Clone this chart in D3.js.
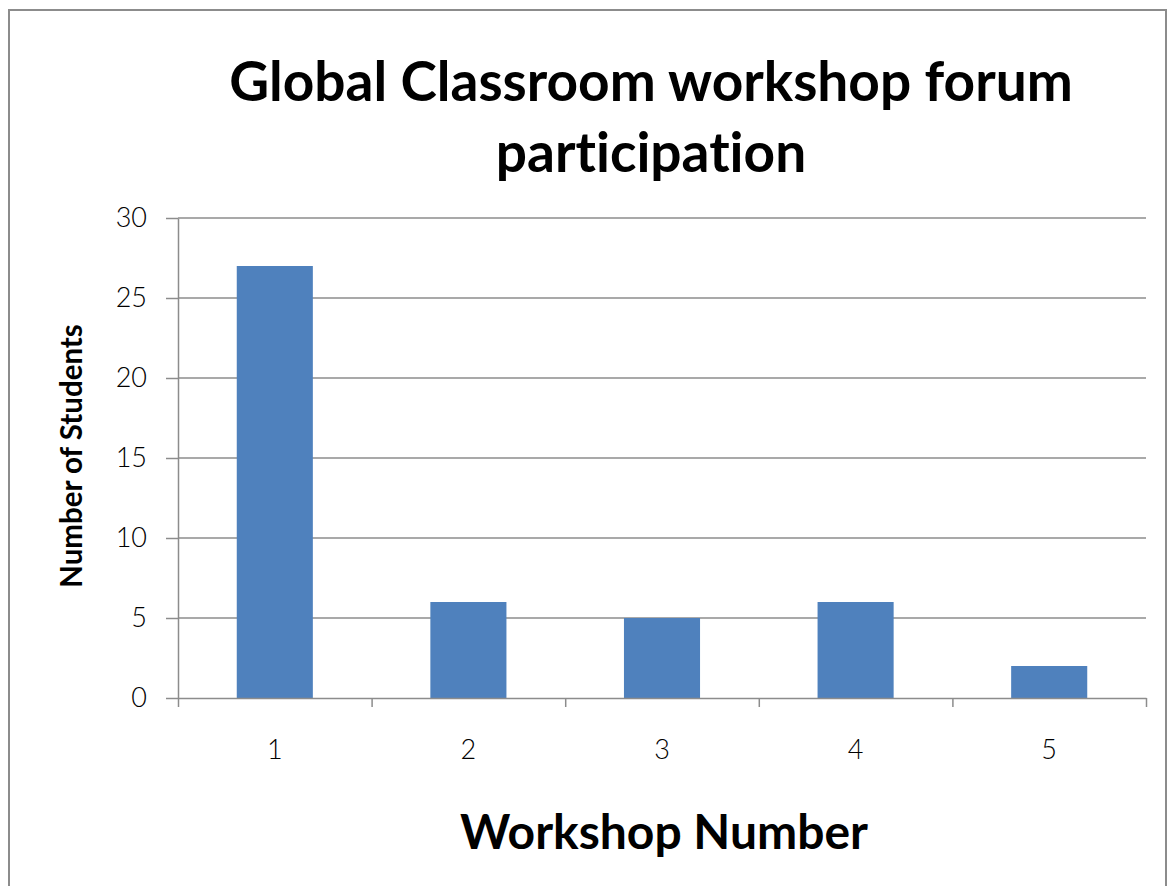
<!DOCTYPE html>
<html>
<head>
<meta charset="utf-8">
<script src="https://cdn.jsdelivr.net/npm/d3@7"></script>
<style>
  body { margin: 0; background: #fff; }
  text { font-family: Lato, "Open Sans", sans-serif; fill: #000; font-variant-ligatures: none; }
</style>
</head>
<body>
<svg id="chart" width="1168" height="886"></svg>
<script>
// data
const workshops = [1, 2, 3, 4, 5];
const students = [27, 6, 5, 6, 2];
const yTicks = [0, 5, 10, 15, 20, 25, 30];

const svg = d3.select("#chart");
const W = +svg.attr("width");
const H = +svg.attr("height");

// chart border
svg.append("rect")
  .attr("x", 9).attr("y", 10)
  .attr("width", W - 11).attr("height", H)
  .attr("fill", "#fff")
  .attr("stroke", "#8c8c8c")
  .attr("stroke-width", 2);

const plot = { left: 178, right: 1146, top: 218, bottom: 698 };

const x = d3.scaleBand()
  .domain(workshops)
  .range([plot.left, plot.right])
  .paddingInner(0.607)
  .paddingOuter(0.3035);

// category boundaries for tick marks
const xEdge = d3.scaleLinear()
  .domain([0, workshops.length])
  .range([plot.left, plot.right]);

const y = d3.scaleLinear()
  .domain([0, 30])
  .range([plot.bottom, plot.top]);

// gridlines
svg.append("g")
  .selectAll("line")
  .data(yTicks.filter(t => t > 0))
  .join("line")
  .attr("x1", plot.left).attr("x2", plot.right)
  .attr("y1", d => y(d)).attr("y2", d => y(d))
  .attr("stroke", "#8c8c8c")
  .attr("stroke-width", 1.5);

// bars
svg.append("g")
  .selectAll("rect")
  .data(workshops)
  .join("rect")
  .attr("x", d => x(d))
  .attr("width", x.bandwidth())
  .attr("y", (d, i) => y(students[i]))
  .attr("height", (d, i) => y(0) - y(students[i]))
  .attr("fill", "#4f81bd");

// y axis
const yAxis = svg.append("g")
  .attr("transform", `translate(${plot.left},0)`)
  .call(d3.axisLeft(y).tickValues(yTicks).tickSize(12).tickPadding(19).tickSizeOuter(0));
yAxis.select(".domain").attr("stroke", "#8c8c8c").attr("stroke-width", 1.5);
yAxis.selectAll(".tick line").attr("stroke", "#8c8c8c").attr("stroke-width", 1.5);
yAxis.selectAll(".tick text")
  .style("font-family", "Lato, sans-serif")
  .style("font-size", "27px")
  .style("font-weight", 300)
  .attr("fill", "#111");

// x axis: boundary ticks
const xTickAxis = svg.append("g")
  .attr("transform", `translate(0,${plot.bottom})`)
  .call(d3.axisBottom(xEdge).tickValues(d3.range(0, workshops.length + 1)).tickSize(9).tickFormat("").tickSizeOuter(0));
xTickAxis.select(".domain").attr("stroke", "#8c8c8c").attr("stroke-width", 1.5);
xTickAxis.selectAll(".tick line").attr("stroke", "#8c8c8c").attr("stroke-width", 1.5);

// x axis: labels
const xLab = svg.append("g")
  .attr("transform", `translate(0,${plot.bottom})`)
  .call(d3.axisBottom(x).tickSize(0).tickPadding(42));
xLab.select(".domain").remove();
xLab.selectAll(".tick text")
  .style("font-family", "Lato, sans-serif")
  .style("font-size", "27px")
  .style("font-weight", 300)
  .attr("fill", "#111");

// title
const title = svg.append("text")
  .attr("x", 651)
  .attr("text-anchor", "middle")
  .style("font-size", "55px")
  .style("font-weight", "bold");
title.append("tspan").attr("x", 651).attr("y", 101).text("Global Classroom workshop forum");
title.append("tspan").attr("x", 651).attr("y", 172).text("participation");

// axis titles
svg.append("text")
  .attr("x", 664)
  .attr("y", 849)
  .attr("text-anchor", "middle")
  .style("font-size", "48px")
  .style("font-weight", "bold")
  .text("Workshop Number");

svg.append("text")
  .attr("transform", "translate(82,456) rotate(-90)")
  .attr("text-anchor", "middle")
  .style("font-size", "29.5px")
  .style("font-weight", "bold")
  .text("Number of Students");
</script>
</body>
</html>
